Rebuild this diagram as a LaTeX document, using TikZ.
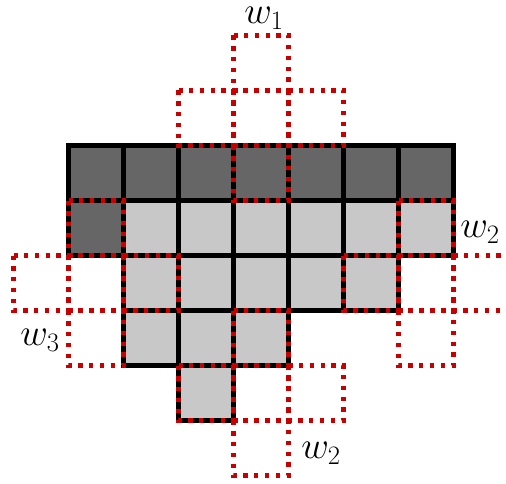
\RequirePackage{fix-cm}
\documentclass[tikz,border=0pt]{standalone}
\begin{document}
\begin{tikzpicture}[x=1pt,y=-1pt,
  darkcell/.style={fill=cellDark, draw=black, line width=5pt},
  lightcell/.style={fill=cellLight, draw=black, line width=5pt},
  redcell/.style={draw=redC, line width=4.3pt, dash pattern=on 4.3pt off 6.5pt},
  lbl/.style={inner sep=0pt, font=\fontsize{38}{44}\selectfont}]
\definecolor{cellDark}{RGB}{102,102,102}
\definecolor{cellLight}{RGB}{200,200,200}
\definecolor{redC}{RGB}{200,0,0}
\useasboundingbox (0,0) rectangle (506,484);
% filled cells
\foreach \c in {1,...,7} {
  \draw[darkcell] (13.5+55*\c,35.5+55*2) rectangle ++(55,55);
}
\draw[darkcell] (13.5+55*1,35.5+55*3) rectangle ++(55,55);
\foreach \c/\r in {2/3,3/3,4/3,5/3,6/3,7/3,2/4,3/4,4/4,5/4,6/4,2/5,3/5,4/5,3/6} {
  \draw[lightcell] (13.5+55*\c,35.5+55*\r) rectangle ++(55,55);
}
% structuring elements (plus shapes)
\foreach \pc/\pr in {4/1,7/4,1/4,4/6} {
  \foreach \dc/\dr in {0/-1,-1/0,0/0,1/0,0/1} {
    \draw[redcell] (13.5+55*\pc+55*\dc,35.5+55*\pr+55*\dr) rectangle ++(55,55);
  }
}
% labels
\node[lbl] (w1) at (264,18) {$w_1$};
\node[lbl] (w2a) at (480,232) {$w_2$};
\node[lbl] (w3) at (40,340) {$w_3$};
\node[lbl] (w2b) at (321,453) {$w_2$};
\end{tikzpicture}
\end{document}
